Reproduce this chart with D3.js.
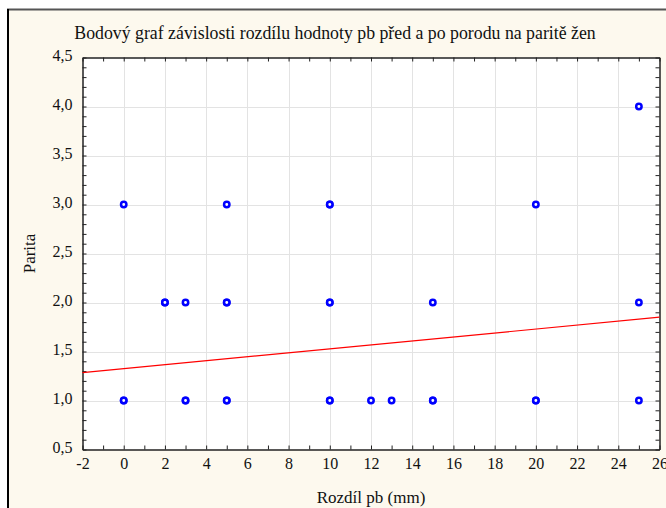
<!DOCTYPE html>
<html lang="cs">
<head>
<meta charset="UTF-8">
<title>Bodový graf</title>
<script src="https://d3js.org/d3.v7.min.js"></script>
<style>
  body { margin: 0; background: #fff; }
  svg text { font-family: 'Liberation Serif', 'Times New Roman', Times, serif; fill: #111; }
  .grid line { stroke: #e3e3e3; stroke-width: 1px; }
</style>
</head>
<body>
<svg id="chart" width="666" height="508"></svg>
<script>
// values (x = rozdíl pb, y = parita); repeated points are overlapping cases
const rozdil = [0, 5, 10, 10, 20, 25,
                2, 2, 3, 5, 5, 10, 10, 15, 25,
                0, 0, 3, 3, 5, 5, 10, 10, 12, 13, 15, 15, 20, 20, 25];
const parita = [3, 3, 3, 3, 3, 4,
                2, 2, 2, 2, 2, 2, 2, 2, 2,
                1, 1, 1, 1, 1, 1, 1, 1, 1, 1, 1, 1, 1, 1, 1];
const fitLine = [[-2, 1.285], [26, 1.85]];
const xTicks = d3.range(-2, 27, 2);
const yTicks = [0.5, 1, 1.5, 2, 2.5, 3, 3.5, 4, 4.5];

const title = "Bodový graf závislosti rozdílu hodnoty pb před a po porodu na paritě žen";
const xLabel = "Rozdíl pb (mm)";
const yLabel = "Parita";

const svg = d3.select("#chart");
const W = 666, H = 508;
const m = {left: 82.5, right: 659.5, top: 57.5, bottom: 449.5};

// frame
svg.append("rect").attr("x", 8).attr("y", 9).attr("width", W).attr("height", H)
  .attr("fill", "#fdf9ee");
svg.append("line").attr("x1", 7).attr("x2", W).attr("y1", 9.5).attr("y2", 9.5)
  .attr("stroke", "#555").attr("stroke-width", 2);
svg.append("line").attr("x1", 8).attr("x2", 8).attr("y1", 9).attr("y2", H)
  .attr("stroke", "#000").attr("stroke-width", 2);

const x = d3.scaleLinear().domain([-2, 26]).range([m.left, m.right]);
const y = d3.scaleLinear().domain([0.5, 4.5]).range([m.bottom, m.top]);

svg.append("rect").attr("x", m.left).attr("y", m.top)
  .attr("width", m.right - m.left).attr("height", m.bottom - m.top).attr("fill", "#fff");

// grid
const grid = svg.append("g").attr("class", "grid");
grid.selectAll(".gx").data(xTicks.slice(1, -1)).join("line")
  .attr("x1", d => Math.round(x(d)) + 0.5).attr("x2", d => Math.round(x(d)) + 0.5)
  .attr("y1", m.top).attr("y2", m.bottom);
grid.selectAll(".gy").data(yTicks.slice(1, -1)).join("line")
  .attr("y1", d => Math.round(y(d)) + 0.5).attr("y2", d => Math.round(y(d)) + 0.5)
  .attr("x1", m.left).attr("x2", m.right);

// axes: ticks pointing inside on all four sides
const fmt = d => d3.format(".1f")(d).replace(".", ",");
const xMinor = d3.range(-2, 26.01, 1);
const yMinor = d3.range(0.5, 4.51, 0.1);

function styleAxis(g) {
  g.selectAll("path").attr("stroke", "#222").attr("stroke-width", 1.5);
  g.selectAll("line").attr("stroke", "#222");
  g.selectAll("text").attr("font-size", 16);
}

svg.append("g").attr("transform", `translate(0,${m.bottom})`)
  .call(d3.axisBottom(x).tickValues(xMinor).tickSize(-4).tickSizeOuter(0).tickFormat(""))
  .call(styleAxis);
svg.append("g").attr("transform", `translate(0,${m.bottom})`)
  .call(d3.axisBottom(x).tickValues(xTicks).tickSize(0).tickPadding(8).tickFormat(d => String(d)))
  .call(g => g.select("path").remove())
  .call(styleAxis)
  .call(g => g.selectAll("text").attr("dy", "0.71em"));

svg.append("g").attr("transform", `translate(0,${m.top})`)
  .call(d3.axisTop(x).tickValues(xMinor).tickSize(-4).tickSizeOuter(0).tickFormat(""))
  .call(styleAxis);

svg.append("g").attr("transform", `translate(${m.left},0)`)
  .call(d3.axisLeft(y).tickValues(yMinor).tickSize(-4).tickSizeOuter(0).tickFormat(""))
  .call(styleAxis);
svg.append("g").attr("transform", `translate(${m.left},0)`)
  .call(d3.axisLeft(y).tickValues(yTicks).tickSize(0).tickPadding(10).tickFormat(fmt))
  .call(g => g.select("path").remove())
  .call(styleAxis)
  .call(g => g.selectAll("text").attr("dy", "0.2em"));

svg.append("g").attr("transform", `translate(${m.right},0)`)
  .call(d3.axisRight(y).tickValues(yMinor).tickSize(-4).tickSizeOuter(0).tickFormat(""))
  .call(styleAxis);

// regression line
svg.append("path")
  .attr("d", d3.line().x(d => x(d[0])).y(d => y(d[1]))(fitLine))
  .attr("fill", "none").attr("stroke", "#ff0000").attr("stroke-width", 1.2);

// points
svg.append("g").selectAll("circle").data(rozdil).join("circle")
  .attr("cx", d => x(d))
  .attr("cy", (d, i) => y(parita[i]))
  .attr("r", 2.7)
  .attr("fill", "#fff")
  .attr("stroke", "#0000ff")
  .attr("stroke-width", 2.5);

// texts
svg.append("text").attr("x", 335).attr("y", 39).attr("text-anchor", "middle")
  .attr("font-size", 17.8).text(title);
svg.append("text").attr("x", (m.left + m.right) / 2).attr("y", 503).attr("text-anchor", "middle")
  .attr("font-size", 17).text(xLabel);
svg.append("text").attr("transform", `translate(35,${(m.top + m.bottom) / 2}) rotate(-90)`)
  .attr("text-anchor", "middle").attr("font-size", 17).text(yLabel);
</script>
</body>
</html>
